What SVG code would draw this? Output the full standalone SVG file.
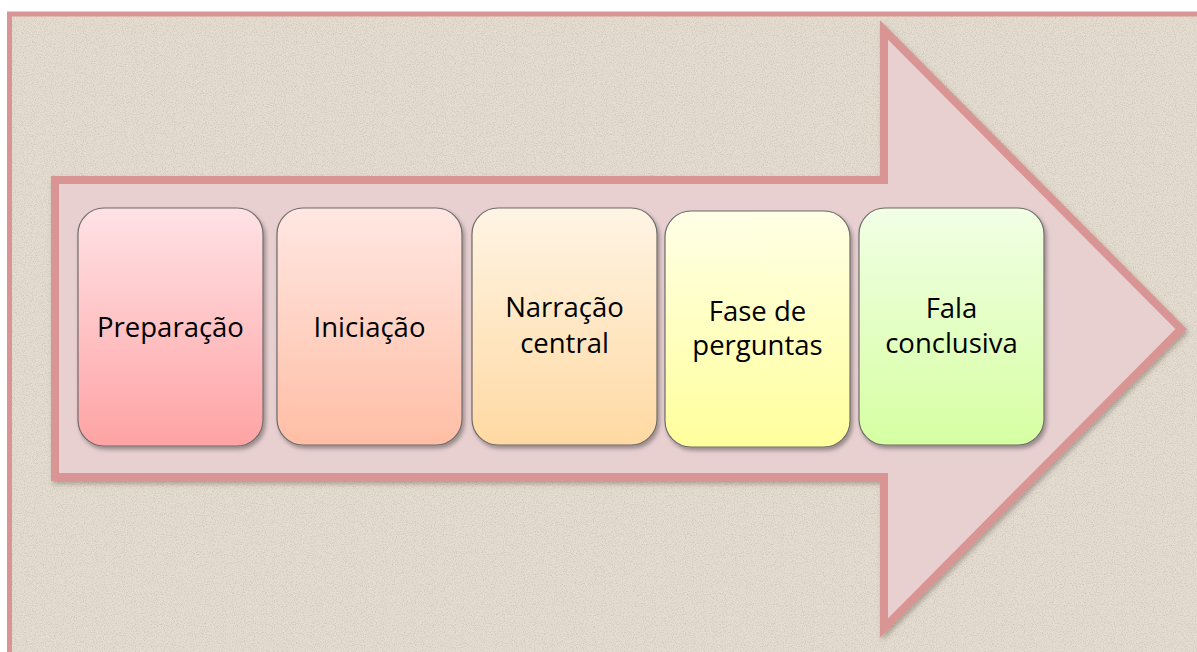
<svg xmlns="http://www.w3.org/2000/svg" width="1197" height="652" viewBox="0 0 1197 652">
<defs>
<style>
.box{stroke:#6f6a6a;stroke-width:1.2;filter:url(#sh)}
.lbl{font-family:"Open Sans","Noto Sans","Liberation Sans",sans-serif;font-size:27.5px;fill:#000;text-anchor:middle}
</style>
<filter id="noise" x="0" y="0" width="100%" height="100%">
<feTurbulence type="fractalNoise" baseFrequency="0.9" numOctaves="2" seed="3" result="n"/>
<feColorMatrix in="n" type="matrix" values="0 0 0 0 0.45  0 0 0 0 0.42  0 0 0 0 0.38  0 0 0 -2.2 1.25" result="m"/>
<feComposite in="m" in2="SourceGraphic" operator="in"/>
</filter>
<filter id="sh" x="-10%" y="-10%" width="130%" height="130%">
<feDropShadow dx="2" dy="3" stdDeviation="2" flood-color="#000" flood-opacity="0.35"/>
</filter>
<filter id="ash" x="-5%" y="-5%" width="115%" height="115%">
<feDropShadow dx="2" dy="3" stdDeviation="2.5" flood-color="#5a4a40" flood-opacity="0.4"/>
</filter>
<linearGradient id="g1" x1="0" y1="0" x2="0" y2="1"><stop offset="0" stop-color="#ffe2e5"/><stop offset="1" stop-color="#ffa3a4"/></linearGradient>
<linearGradient id="g2" x1="0" y1="0" x2="0" y2="1"><stop offset="0" stop-color="#ffe7e2"/><stop offset="1" stop-color="#ffbea5"/></linearGradient>
<linearGradient id="g3" x1="0" y1="0" x2="0" y2="1"><stop offset="0" stop-color="#fff4e4"/><stop offset="1" stop-color="#ffd9a2"/></linearGradient>
<linearGradient id="g4" x1="0" y1="0" x2="0" y2="1"><stop offset="0" stop-color="#ffffe6"/><stop offset="1" stop-color="#ffff9c"/></linearGradient>
<linearGradient id="g5" x1="0" y1="0" x2="0" y2="1"><stop offset="0" stop-color="#f1ffe5"/><stop offset="1" stop-color="#d6ffa2"/></linearGradient>
</defs>
<rect x="0" y="0" width="1197" height="652" fill="#ffffff"/>
<g id="frame">
<rect x="9.5" y="14" width="1200" height="660" fill="#e5ddd0"/>
<rect x="9.5" y="14" width="1200" height="660" fill="#e5ddd0" filter="url(#noise)" opacity="0.5"/>
<rect x="9.5" y="14" width="1200" height="660" fill="none" stroke="#d99594" stroke-width="5"/>
</g>
<g id="arrow">
<path d="M55,180 L884,180 L884,30 L1181,329 L884,628 L884,477 L55,477 Z" fill="#e8d0d1" stroke="#d99594" stroke-width="8" stroke-linejoin="miter" stroke-miterlimit="10" filter="url(#ash)"/>
</g>
<g id="connectors"></g>
<g id="n1">
<rect class="box" x="78" y="208" width="185" height="238" rx="26" fill="url(#g1)"/>
<text class="lbl" x="170.5" y="337">Preparação</text>
</g>
<g id="n2">
<rect class="box" x="277" y="208" width="185" height="237" rx="26" fill="url(#g2)"/>
<text class="lbl" x="369.5" y="337">Iniciação</text>
</g>
<g id="n3">
<rect class="box" x="472" y="208" width="185" height="237" rx="26" fill="url(#g3)"/>
<text class="lbl" x="564.5" y="317">Narração</text>
<text class="lbl" x="564.5" y="353">central</text>
</g>
<g id="n4">
<rect class="box" x="665" y="211" width="185" height="236" rx="26" fill="url(#g4)"/>
<text class="lbl" x="757.5" y="321">Fase de</text>
<text class="lbl" x="757.5" y="355">perguntas</text>
</g>
<g id="n5">
<rect class="box" x="859" y="208" width="185" height="237" rx="26" fill="url(#g5)"/>
<text class="lbl" x="951.5" y="318">Fala</text>
<text class="lbl" x="951.5" y="353">conclusiva</text>
</g>
</svg>
